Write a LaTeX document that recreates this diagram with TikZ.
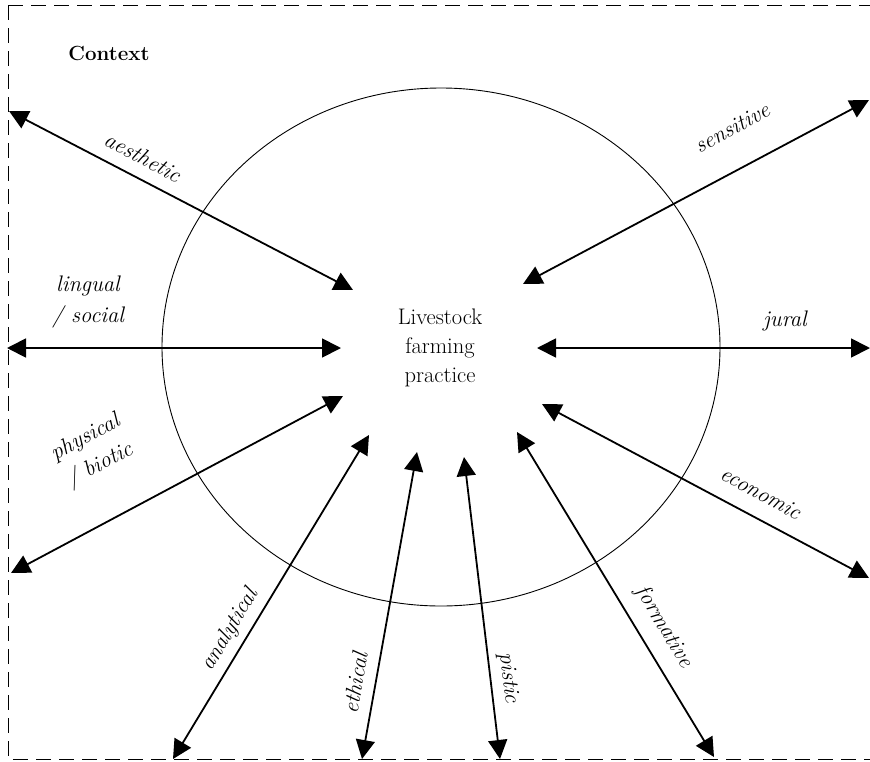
\documentclass[tikz,border=0pt]{standalone}
\usetikzlibrary{arrows.meta}
\begin{document}
\begin{tikzpicture}[x=1pt,y=-1pt,
  conn/.style={line width=1.8pt,{Triangle[length=19pt,width=19pt]}-{Triangle[length=19pt,width=19pt]}},
  lab/.style={font=\fontsize{22.5}{31}\selectfont\itshape,align=center,inner sep=0pt},
  main/.style={font=\fontsize{22.5}{29}\selectfont,align=center,inner sep=0pt}]
\useasboundingbox (0,0) rectangle (870,761);
\draw[dash pattern=on 15pt off 8pt,line width=1pt] (8,5) -- (880,5);
\draw[dash pattern=on 15pt off 8pt,line width=1pt] (8,5) -- (8,759) -- (880,759);
\node[font=\fontsize{20.5}{24}\selectfont\bfseries,inner sep=0pt] (ctx) at (109,53) {Context};
\draw[line width=0.9pt] (441,347) ellipse [x radius=279, y radius=259];
\node[main] (c) at (440,348) {Livestock\\farming\\practice};
% coordinates
\coordinate (aO) at (9,111);   \coordinate (aI) at (353,290);
\coordinate (sO) at (869,100); \coordinate (sI) at (523,284);
\coordinate (lO) at (7,348);   \coordinate (lI) at (341,348);
\coordinate (jO) at (870,348); \coordinate (jI) at (537,348);
\coordinate (pO) at (11,573);  \coordinate (pI) at (343,396);
\coordinate (anO) at (173,759);\coordinate (anI) at (369,435);
\coordinate (etO) at (362,759);\coordinate (etI) at (417,452);
\coordinate (piO) at (500,759);\coordinate (piI) at (464,457);
\coordinate (foO) at (714,757);\coordinate (foI) at (517,432);
\coordinate (ecO) at (869,578);\coordinate (ecI) at (542,404);
\draw[conn] (aO) -- (aI);
\draw[conn] (sO) -- (sI);
\draw[conn] (lO) -- (lI);
\draw[conn] (jO) -- (jI);
\draw[conn] (pO) -- (pI);
\draw[conn] (anO) -- (anI);
\draw[conn] (etO) -- (etI);
\draw[conn] (piO) -- (piI);
\draw[conn] (foO) -- (foI);
\draw[conn] (ecO) -- (ecI);
% labels
\node[lab,rotate=-28] (laes) at (143,157) {aesthetic};
\node[lab,rotate=28] (lsen) at (732,128) {sensitive};
\node[lab] (lling) at (88,302) {lingual\\/ social};
\node[lab] (ljur) at (785,321) {jural};
\node[lab,rotate=28] (lphy) at (93,452) {physical\\/ biotic};
\node[lab,rotate=-28] (leco) at (761,493) {economic};
\node[lab,rotate=59] (lana) at (230,630) {analytical};
\node[lab,rotate=80] (leth) at (355,683) {ethical};
\node[lab,rotate=-83] (lpis) at (508,678) {pistic};
\node[lab,rotate=-59] (lfor) at (664,627) {formative};
\end{tikzpicture}
\end{document}
